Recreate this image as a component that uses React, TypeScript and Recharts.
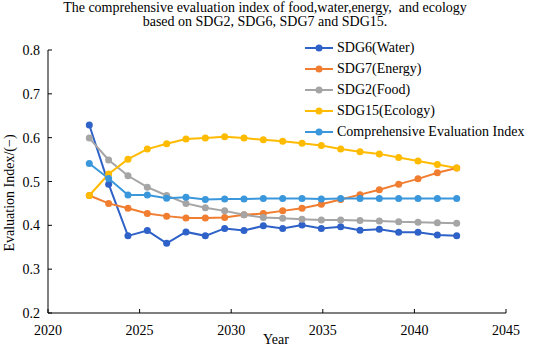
import React from 'react';
import { LineChart, Line, XAxis, YAxis, Legend } from 'recharts';

// values
const years = [2022, 2023, 2024, 2025, 2026, 2027, 2028, 2029, 2030, 2031,
  2032, 2033, 2034, 2035, 2036, 2037, 2038, 2039, 2040, 2041];
const water = [0.629, 0.494, 0.376, 0.388, 0.359, 0.385, 0.376, 0.393, 0.388, 0.399,
  0.393, 0.401, 0.393, 0.397, 0.389, 0.391, 0.384, 0.384, 0.378, 0.376];
const energy = [0.468, 0.450, 0.439, 0.427, 0.421, 0.417, 0.417, 0.418, 0.424, 0.427,
  0.433, 0.439, 0.448, 0.459, 0.470, 0.481, 0.494, 0.506, 0.520, 0.531];
const food = [0.599, 0.549, 0.513, 0.487, 0.468, 0.450, 0.440, 0.433, 0.424, 0.418,
  0.416, 0.414, 0.412, 0.412, 0.411, 0.410, 0.408, 0.407, 0.406, 0.405];
const ecology = [0.468, 0.517, 0.551, 0.574, 0.586, 0.597, 0.599, 0.602, 0.599, 0.595,
  0.592, 0.587, 0.582, 0.574, 0.568, 0.563, 0.555, 0.547, 0.539, 0.531];
const overall = [0.541, 0.507, 0.469, 0.469, 0.462, 0.464, 0.459, 0.460, 0.460, 0.461,
  0.461, 0.461, 0.460, 0.461, 0.461, 0.461, 0.461, 0.461, 0.461, 0.461];

const xTicks = [2020, 2025, 2030, 2035, 2040, 2045];
const yTicks = [0.2, 0.3, 0.4, 0.5, 0.6, 0.7, 0.8];

const series = [
  { key: 'water', name: 'SDG6(Water)', color: '#2f62c8' },
  { key: 'energy', name: 'SDG7(Energy)', color: '#f07d30' },
  { key: 'food', name: 'SDG2(Food)', color: '#a5a5a5' },
  { key: 'ecology', name: 'SDG15(Ecology)', color: '#ffbb00' },
  { key: 'overall', name: 'Comprehensive Evaluation Index', color: '#3a97dc' },
];

const chartData = years.map((year, i) => ({
  year,
  water: water[i],
  energy: energy[i],
  food: food[i],
  ecology: ecology[i],
  overall: overall[i],
}));

const FONT = '"Liberation Serif", "Times New Roman", serif';

const XTick = ({ x, y, payload }: any) => (
  <g>
    <line x1={x} x2={x} y1={y} y2={y - 4} stroke="#000" strokeWidth={1} />
    <text x={x} y={y + 22} textAnchor="middle" fontSize={14} fontFamily={FONT} fill="#000">
      {payload.value}
    </text>
  </g>
);

const YTick = ({ x, y, payload }: any) => (
  <g>
    <line x1={x} x2={x + 4} y1={y} y2={y} stroke="#000" strokeWidth={1} />
    <text x={x - 8} y={y + 5} textAnchor="end" fontSize={14} fontFamily={FONT} fill="#000">
      {payload.value.toFixed(1)}
    </text>
  </g>
);

const renderLegend = () => (
  <div style={{ fontFamily: FONT, fontSize: 14, color: '#000', lineHeight: 1 }}>
    {series.map(s => (
      <div key={s.key} style={{ height: 21.2, display: 'flex', alignItems: 'center' }}>
        <svg width={31} height={10} style={{ marginRight: 1 }}>
          <line x1={0} x2={28} y1={5} y2={5} stroke={s.color} strokeWidth={2} />
          <circle cx={14} cy={5} r={3.5} fill={s.color} />
        </svg>
        <span>{s.name}</span>
      </div>
    ))}
  </div>
);

export default function App() {
  return (
    <div style={{ position: 'absolute', left: 0, top: 0, width: 550, height: 349, background: '#fff' }}>
      <LineChart
        width={550}
        height={349}
        data={chartData}
        margin={{ top: 50, right: 44, left: 0, bottom: 0 }}
      >
        <XAxis
          xAxisId="vis"
          type="number"
          dataKey="year"
          domain={[2020, 2045]}
          ticks={xTicks}
          allowDataOverflow
          height={36}
          tickSize={0}
          tickMargin={0}
          tickLine={false}
          axisLine={{ stroke: '#000', strokeWidth: 1 }}
          tick={<XTick />}
          interval={0}
        />
        <XAxis
          xAxisId="data"
          type="number"
          dataKey="year"
          domain={[2019.864, 2043.55]}
          allowDataOverflow
          height={0}
          hide
        />
        <YAxis
          type="number"
          domain={[0.2, 0.8]}
          ticks={yTicks}
          width={48}
          tickSize={0}
          tickMargin={0}
          tickLine={false}
          axisLine={{ stroke: '#000', strokeWidth: 1 }}
          tick={<YTick />}
          interval={0}
        />
        <Legend
          layout="horizontal"
          verticalAlign="middle"
          content={renderLegend}
          wrapperStyle={{ position: 'absolute', left: 305, top: 37, width: 245 }}
        />
        {series.map(s => (
          <Line
            key={s.key}
            xAxisId="data"
            type="linear"
            dataKey={s.key}
            name={s.name}
            stroke={s.color}
            strokeWidth={2}
            dot={{ r: 3.5, fill: s.color, stroke: s.color, strokeWidth: 0 }}
            isAnimationActive={false}
          />
        ))}
      </LineChart>
      <svg
        width={550}
        height={349}
        style={{ position: 'absolute', left: 0, top: 0, pointerEvents: 'none' }}
      >
        <text x={265} y={12} textAnchor="middle" fontSize={14} fontFamily={FONT} fill="#000">
          {'The comprehensive evaluation index of food,water,energy,\u00a0 and ecology'}
        </text>
        <text x={265} y={26} textAnchor="middle" fontSize={14} fontFamily={FONT} fill="#000">
          based on SDG2, SDG6, SDG7 and SDG15.
        </text>
        <text x={276} y={344} textAnchor="middle" fontSize={14} fontFamily={FONT} fill="#000">
          Year
        </text>
        <text
          x={14}
          y={193}
          textAnchor="middle"
          fontSize={14}
          fontFamily={FONT}
          fill="#000"
          transform="rotate(-90 14 193)"
        >
          Evaluation Index/(−)
        </text>
      </svg>
    </div>
  );
}
